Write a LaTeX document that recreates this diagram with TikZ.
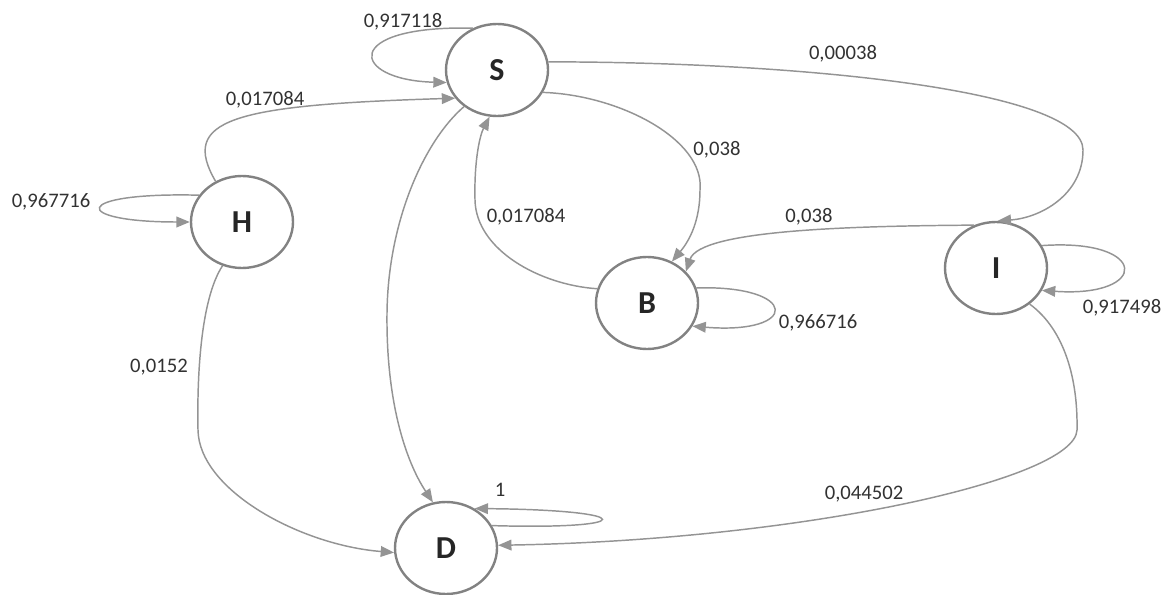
\documentclass[tikz,border=0pt]{standalone}
\usepackage{fontspec}
\setmainfont{Carlito}
\usetikzlibrary{arrows.meta,shapes.geometric}
\definecolor{edgegray}{RGB}{148,148,148}
\definecolor{nodegray}{RGB}{130,130,130}
\definecolor{labelgray}{RGB}{50,50,50}
\begin{document}
\begin{tikzpicture}[x=0.75pt,y=-0.75pt,
  state/.style={ellipse,draw=nodegray,line width=1.8pt,minimum width=76.5pt,minimum height=69pt,inner sep=0pt,font=\fontsize{24}{24}\selectfont\bfseries,text=black!85},
  trans/.style={draw=edgegray,line width=1.1pt,-{Triangle[length=10pt,width=8pt]}},
  prob/.style={font=\fontsize{15.5}{16}\selectfont,text=labelgray,inner sep=0pt}]
\useasboundingbox (0,0) rectangle (1169,595);

% states
\node[state] (S) at (497,70) {S};
\node[state] (H) at (242,222) {H};
\node[state] (B) at (647,303) {B};
\node[state] (I) at (996,268) {I};
\node[state] (D) at (446,548) {D};

% transitions
\draw[trans] (S.120) .. controls (340,25) and (350,80) .. (S.194);
\draw[trans] (H.123) .. controls (180,120) and (230,105) .. (S.214);
\draw[trans] (H.148) .. controls (70,192) and (70,222) .. (H.180);
\draw[trans] (S.228) .. controls (425,140) and (388,220) .. (387,313)
                     .. controls (386,400) and (405,460) .. (D.106);
\draw[trans] (B.164) .. controls (540,285) and (476,250) .. (475,200)
                     .. controls (474,160) and (480,135) .. (S.261);
\draw[trans] (S.334) .. controls (620,95) and (705,140) .. (700,190)
                     .. controls (700,220) and (690,240) .. (B.59);
\draw[trans] (S.9) .. controls (800,62) and (1083,90) .. (1083,150)
                   .. controls (1083,195) and (1040,218) .. (I.88);
\draw[trans] (I.117) .. controls (850,226) and (700,230) .. (B.39);
\draw[trans] (I.26) .. controls (1150,238) and (1150,298) .. (I.334);
\draw[trans] (B.17) .. controls (800,285) and (800,335) .. (B.333);
\draw[trans] (H.246) .. controls (200,300) and (197,380) .. (198,430)
                     .. controls (199,490) and (300,545) .. (D.185);
\draw[trans] (I.313) .. controls (1065,330) and (1078,380) .. (1077,430)
                     .. controls (1075,480) and (800,540) .. (D.3);
\draw[trans] (D.26) .. controls (640,530) and (640,510) .. (D.54);

% probabilities
\node[prob] (pSS) at (403,22) {0,917118};
\node[prob] (pHS) at (265,100) {0,017084};
\node[prob] (pHH) at (51,202) {0,967716};
\node[prob] (pBS) at (526,217) {0,017084};
\node[prob] (pSB) at (717,150) {0,038};
\node[prob] (pSI) at (843,54) {0,00038};
\node[prob] (pIB) at (809,217) {0,038};
\node[prob] (pII) at (1122,308) {0,917498};
\node[prob] (pBB) at (818,323) {0,966716};
\node[prob] (pHD) at (159,367) {0,0152};
\node[prob] (pDD) at (500,490) {1};
\node[prob] (pID) at (864,494) {0,044502};
\end{tikzpicture}
\end{document}
